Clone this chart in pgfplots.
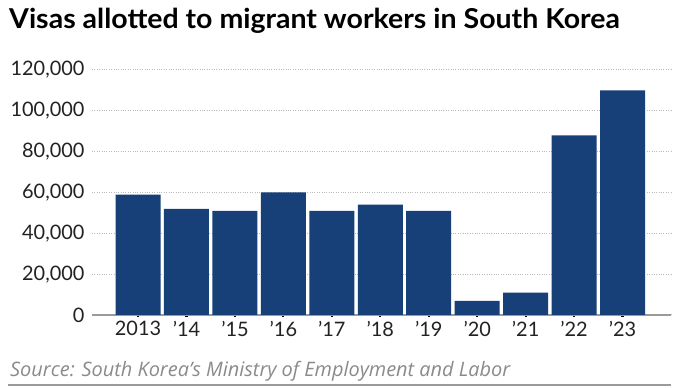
\documentclass[border=0pt]{standalone}
\usepackage{pgfplots}
\pgfplotsset{compat=1.18}
\usepackage{fontspec}
\setmainfont{Lato}
\newfontfamily\srcfont{Open Sans}
\definecolor{barblue}{HTML}{173F78}
\definecolor{gridgray}{HTML}{BBBBBB}
\definecolor{basegray}{HTML}{9A9A9A}
\definecolor{srcgray}{HTML}{8A8A8A}
\definecolor{ticktext}{HTML}{222222}
\begin{document}
\begin{tikzpicture}
\path[use as bounding box] (0bp,0bp) rectangle (687bp,388bp);
\node[anchor=base west, inner sep=0pt, font=\fontsize{27.5}{30}\selectfont\bfseries] at (9bp,359bp) {\scalebox{1.04}[1]{Visas allotted to migrant workers in South Korea}};
\begin{axis}[
  at={(92bp,73bp)}, anchor=south west,
  scale only axis, width=579bp, height=245bp,
  xmin=-0.95, xmax=11, ymin=0, ymax=120000,
  ybar, bar width=45bp, bar shift=0pt,
  axis x line=bottom, axis y line=left,
  x axis line style={basegray, line width=1.2bp, -},
  y axis line style={draw=none},
  xtick={0,...,10},
  xticklabels={2013,’14,’15,’16,’17,’18,’19,’20,’21,’22,’23},
  xtick style={black, line width=2.2bp},
  tick align=outside,
  major tick length=2bp,
  scaled y ticks=false,
  ytick={0,20000,40000,60000,80000,100000,120000},
  yticklabels={0,{20,000},{40,000},{60,000},{80,000},{100,000},{120,000}},
  ytick style={draw=none},
  yticklabel style={font=\fontsize{20}{22}\selectfont, text=ticktext, xshift=-2bp},
  xticklabel style={font=\fontsize{20}{22}\selectfont, text=ticktext, yshift=-1bp},
  ymajorgrids,
  grid style={gridgray, dotted, line width=1bp},
  clip=false,
]
\addplot[fill=barblue, draw=none] coordinates {
 (0,59000) (1,52000) (2,51000) (3,60000) (4,51000) (5,54000) (6,51000) (7,6900) (8,10900) (9,88000) (10,110000)};
\end{axis}
\node[anchor=base west, inner sep=0pt, text=srcgray, font=\srcfont\fontsize{20}{22}\selectfont\itshape] at (10bp,12bp) {Source: South Korea’s Ministry of Employment and Labor};
\draw[basegray, line width=1.5bp] (8bp,3bp) -- (671bp,3bp);
\end{tikzpicture}
\end{document}
